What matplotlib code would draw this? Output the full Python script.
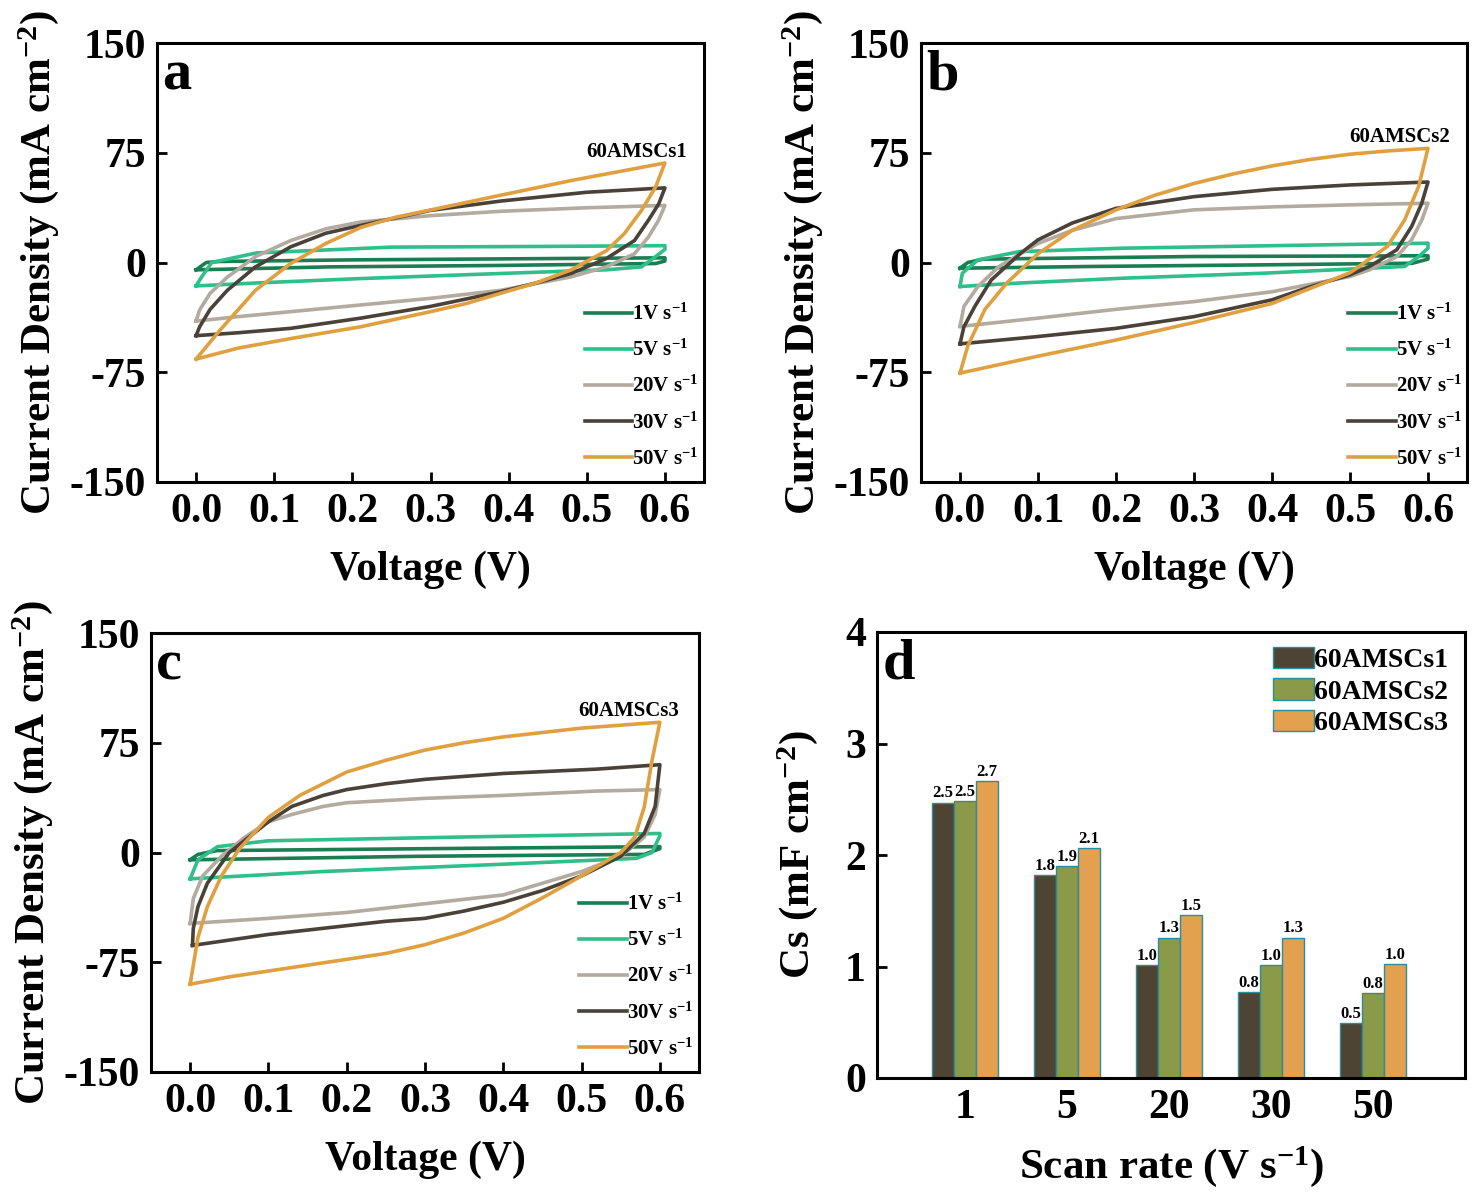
import matplotlib
matplotlib.use("Agg")
import matplotlib.pyplot as plt
import numpy as np

plt.rcParams["font.family"] = ["Liberation Serif", "DejaVu Serif"]
plt.rcParams["font.weight"] = "bold"
plt.rcParams["axes.labelweight"] = "bold"
plt.rcParams["axes.unicode_minus"] = False
plt.rcParams["mathtext.fontset"] = "custom"
plt.rcParams["mathtext.rm"] = "Liberation Serif:bold"
plt.rcParams["mathtext.it"] = "Liberation Serif:bold"
plt.rcParams["mathtext.bf"] = "Liberation Serif:bold"
plt.rcParams["mathtext.default"] = "rm"

# ---- CV loops: (voltage, current) ----
# each loop starts at 0 V, runs the upper branch to 0.6 V and back
scan_labels = [r"1V s$^{-1}$", r"5V s$^{-1}$", r"20V s$^{-1}$",
               r"30V s$^{-1}$", r"50V s$^{-1}$"]
scan_colors = ["#1b7d52", "#2ebf8a", "#b3aaa0", "#4a4238", "#e0a040"]

a_1V = [(0, -5), (0.013, 0), (0.03, 0.7), (0.2, 1.8), (0.4, 2.5), (0.6, 3.2),
        (0.6, 1.0), (0.588, -0.7), (0.39, -2), (0.17, -3), (0, -5)]
a_5V = [(0, -16), (0.007, -10), (0.02, 0), (0.077, 6.5), (0.25, 10.5), (0.45, 11),
        (0.6, 11.5), (0.6, 9), (0.588, 4), (0.57, -3), (0.525, -5), (0.39, -7.5),
        (0.21, -11), (0.077, -14), (0, -16)]
a_20V = [(0, -40), (0.0045, -32.5), (0.018, -21), (0.04, -10), (0.076, 4),
         (0.121, 15), (0.166, 23), (0.211, 27.7), (0.3, 32), (0.39, 35),
         (0.5, 37.4), (0.6, 39), (0.592, 29), (0.579, 17.5), (0.561, 6),
         (0.525, -3), (0.48, -9.8), (0.39, -19), (0.3, -24.5), (0.211, -29),
         (0.121, -33.6), (0.054, -37), (0, -40)]
a_30V = [(0, -50), (0.0045, -44), (0.018, -32), (0.04, -19), (0.076, -3),
         (0.121, 10.7), (0.166, 20), (0.211, 25.4), (0.3, 35.6), (0.39, 42),
         (0.5, 48), (0.6, 51), (0.592, 40), (0.579, 29), (0.561, 15),
         (0.525, 2.7), (0.48, -7.5), (0.435, -14), (0.39, -20), (0.3, -30),
         (0.211, -38), (0.121, -45), (0.054, -48), (0, -50)]
a_50V = [(0, -66), (0.031, -46), (0.076, -19), (0.121, -0.7), (0.166, 13),
         (0.211, 24), (0.256, 31), (0.301, 36), (0.39, 46), (0.48, 56),
         (0.57, 65), (0.6, 68), (0.588, 51.5), (0.57, 35.6), (0.548, 19.7),
         (0.525, 8), (0.48, -5), (0.435, -14), (0.39, -21), (0.346, -28),
         (0.3, -33.6), (0.21, -44), (0.121, -52), (0.054, -58.5), (0, -66)]

b_1V = [(0, -3.9), (0.01, 0), (0.03, 2.3), (0.3, 4.1), (0.6, 4.6), (0.6, 2.3),
        (0.58, -0.5), (0.39, -1.6), (0.17, -2.7), (0, -3.9)]
b_5V = [(0, -16.4), (0.003, -7.3), (0.023, 1.8), (0.077, 7.5), (0.21, 9.8),
        (0.39, 11.4), (0.6, 13.2), (0.6, 9.8), (0.588, 4), (0.57, -2.7),
        (0.39, -7.3), (0.21, -10.7), (0.077, -14), (0, -16.4)]
b_20V = [(0, -43.7), (0.005, -30), (0.023, -16.4), (0.05, -2.7), (0.1, 13),
         (0.144, 22), (0.2, 30), (0.3, 36), (0.4, 38), (0.5, 39.4), (0.6, 40.5),
         (0.592, 29), (0.579, 15.5), (0.56, 4), (0.525, -5), (0.5, -9.6),
         (0.4, -20), (0.3, -26.7), (0.2, -32), (0.1, -38), (0, -43.7)]
b_30V = [(0, -55.6), (0.005, -44), (0.019, -30), (0.04, -12), (0.077, 6),
         (0.1, 15.5), (0.144, 27), (0.2, 37), (0.3, 45), (0.4, 50), (0.5, 53),
         (0.6, 55), (0.592, 40.5), (0.579, 24.6), (0.56, 8.7), (0.525, -2.7),
         (0.5, -8.4), (0.45, -16.4), (0.4, -25.5), (0.3, -37), (0.2, -45),
         (0.1, -50.6), (0, -55.6)]
b_50V = [(0, -75.6), (0.01, -57), (0.032, -32), (0.06, -14), (0.1, 6),
         (0.144, 22), (0.2, 36), (0.25, 46), (0.3, 54), (0.35, 60.5), (0.4, 66),
         (0.45, 70.5), (0.5, 74), (0.55, 76.3), (0.6, 78),
         (0.588, 52), (0.57, 29), (0.548, 11), (0.5, -7), (0.45, -17.5),
         (0.4, -28), (0.3, -41), (0.2, -53), (0.1, -64), (0, -75.6)]

c_1V = [(0, -5), (0.01, -1.3), (0.034, 1.3), (0.3, 2.6), (0.6, 4), (0.6, 2.6),
        (0.58, -1.3), (0.29, -2.6), (0, -5)]
c_5V = [(0, -18), (0.01, -5), (0.035, 4), (0.1, 8), (0.34, 10.5), (0.6, 13),
        (0.6, 11.5), (0.59, 0), (0.57, -4), (0.4, -8), (0.17, -13), (0, -18)]
c_20V = [(0, -48.5), (0.004, -31.5), (0.016, -16), (0.04, -2.6), (0.07, 10.5),
         (0.1, 21), (0.13, 26), (0.17, 31.5), (0.2, 34), (0.3, 37), (0.4, 39),
         (0.52, 42), (0.6, 43),
         (0.594, 26), (0.58, 10.5), (0.55, -2.6), (0.5, -13), (0.4, -29),
         (0.3, -35), (0.2, -41), (0.1, -45), (0, -48.5)]
c_30V = [(0.003, -63.5), (0.004, -52), (0.01, -37), (0.022, -21), (0.05, 0),
         (0.1, 21), (0.13, 31.5), (0.17, 39), (0.2, 43), (0.25, 47), (0.3, 50),
         (0.4, 54), (0.52, 57), (0.6, 60),
         (0.594, 31.5), (0.58, 13), (0.55, -2.6), (0.5, -16), (0.45, -26),
         (0.4, -34), (0.35, -40), (0.3, -45), (0.25, -47), (0.2, -50),
         (0.1, -56), (0.003, -63.5)]
c_50V = [(0, -90), (0.01, -58), (0.022, -37), (0.04, -16), (0.063, 2.6),
         (0.1, 24), (0.14, 39), (0.2, 55), (0.25, 63), (0.3, 70), (0.35, 75),
         (0.4, 79), (0.45, 82), (0.5, 85), (0.55, 87), (0.6, 89),
         (0.59, 63), (0.58, 31), (0.568, 10.5), (0.55, 0),
         (0.5, -16), (0.45, -31), (0.4, -45), (0.35, -55), (0.3, -63),
         (0.25, -69), (0.2, -73), (0.15, -77), (0.1, -81), (0.05, -85), (0, -90)]

cv_panels = [
    ("a", "60AMSCs1", [a_1V, a_5V, a_20V, a_30V, a_50V]),
    ("b", "60AMSCs2", [b_1V, b_5V, b_20V, b_30V, b_50V]),
    ("c", "60AMSCs3", [c_1V, c_5V, c_20V, c_30V, c_50V]),
]

# ---- specific capacitance (panel d) ----
scan_rates = ["1", "5", "20", "30", "50"]
cs_s1 = [2.47, 1.82, 1.01, 0.77, 0.49]
cs_s2 = [2.48, 1.90, 1.26, 1.01, 0.76]
cs_s3 = [2.66, 2.06, 1.46, 1.26, 1.02]
bar_names = ["60AMSCs1", "60AMSCs2", "60AMSCs3"]
bar_colors = ["#4e4434", "#8a9a48", "#e3a04e"]

W, H = 1477, 1194
fig = plt.figure(figsize=(W / 100, H / 100), dpi=100)


def px_axes(left, top, right, bottom):
    return fig.add_axes([left / W, 1 - bottom / H, (right - left) / W, (bottom - top) / H])


def style(ax):
    for s in ax.spines.values():
        s.set_linewidth(2.2)
    ax.tick_params(direction="in", length=7, width=2, labelsize=30, pad=8,
                   top=False, right=False)
    for lab in ax.get_xticklabels() + ax.get_yticklabels():
        lab.set_fontweight("bold")


cv_boxes = [(157, 43, 704, 482), (921, 43, 1467, 482), (151, 633, 699, 1072)]
tag_pos = [(0.876, 0.752), (0.877, 0.786), (0.872, 0.822)]

for (letter, name, loops), box, tpos in zip(cv_panels, cv_boxes, tag_pos):
    ax = px_axes(*box)
    for loop, lab, col in zip(loops, scan_labels, scan_colors):
        v = [p[0] for p in loop]
        i = [p[1] for p in loop]
        ax.plot(v, i, color=col, lw=2.6, label=lab)
    ax.set_xlim(-0.05, 0.65)
    ax.set_ylim(-150, 150)
    ax.set_xticks(np.arange(0, 0.61, 0.1))
    ax.set_xticklabels(["0.0", "0.1", "0.2", "0.3", "0.4", "0.5", "0.6"])
    ax.set_yticks([-150, -75, 0, 75, 150])
    ax.set_xlabel("Voltage (V)", fontsize=30, labelpad=14)
    ax.set_ylabel(r"Current Density (mA cm$^{-2}$)", fontsize=31, labelpad=6)
    style(ax)
    ax.text(0.01, 0.985, letter, transform=ax.transAxes, fontsize=42,
            fontweight="bold", va="top", ha="left")
    ax.text(tpos[0], tpos[1], name, transform=ax.transAxes, fontsize=15,
            fontweight="bold", ha="center", va="center")
    ax.legend(loc="lower left", bbox_to_anchor=(0.755, -0.005), frameon=False,
              fontsize=15, handlelength=2.3, handletextpad=0.0,
              labelspacing=0.72, borderpad=0.2)

# ---- panel d ----
axd = px_axes(877, 632, 1465, 1078)
x = np.arange(len(scan_rates))
w = 0.217
for k, (vals, nm, col) in enumerate(zip([cs_s1, cs_s2, cs_s3], bar_names, bar_colors)):
    bars = axd.bar(x + (k - 1) * w, vals, width=w, color=col,
                   edgecolor="#2c8c9c", linewidth=1.0, label=nm)
    for b, val in zip(bars, vals):
        axd.text(b.get_x() + b.get_width() / 2, val + 0.01, f"{val:.1f}",
                 ha="center", va="bottom", fontsize=12, fontweight="bold")
axd.set_xlim(-0.86, 4.9)
axd.set_ylim(0, 4)
axd.set_xticks(x)
axd.set_xticklabels(scan_rates)
axd.set_yticks([0, 1, 2, 3, 4])
axd.set_xlabel(r"Scan rate (V s$^{-1}$)", fontsize=31, labelpad=12)
axd.set_ylabel(r"Cs (mF cm$^{-2}$)", fontsize=31, labelpad=18)
style(axd)
axd.tick_params(axis="x", length=0)
axd.text(0.01, 0.985, "d", transform=axd.transAxes, fontsize=42,
         fontweight="bold", va="top", ha="left")
axd.legend(loc="upper right", bbox_to_anchor=(1.005, 1.01), frameon=False,
           fontsize=20, handlelength=1.5, handleheight=0.8, handletextpad=0.0,
           labelspacing=0.18, borderpad=0.2)

fig.savefig("out.png", dpi=100)
